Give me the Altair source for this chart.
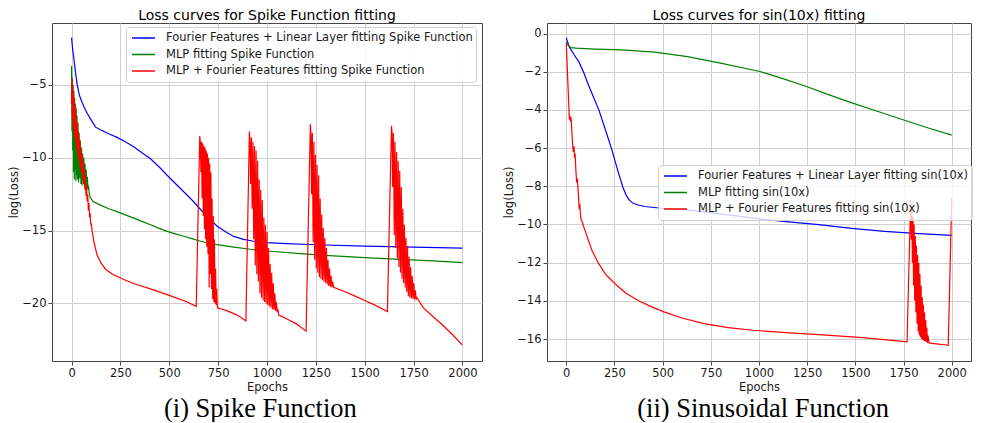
import altair as alt
import pandas as pd

# ---------------- data (epoch, log(loss)) ----------------
EPOCH_TICKS = [0, 250, 500, 750, 1000, 1250, 1500, 1750, 2000]
SPIKE_Y_TICKS = [-5, -10, -15, -20]
SIN_Y_TICKS = [0, -2, -4, -6, -8, -10, -12, -14, -16]

SPIKE_NAMES = [
    "Fourier Features + Linear Layer fitting Spike Function",
    "MLP fitting Spike Function",
    "MLP + Fourier Features fitting Spike Function",
]
SIN_NAMES = [
    "Fourier Features + Linear Layer fitting sin(10x)",
    "MLP fitting sin(10x)",
    "MLP + Fourier Features fitting sin(10x)",
]
COLORS = ["#0000ff", "#008000", "#ff0000"]

spike_ff_linear = [
    (0, -1.75), (6, -2.6), (12, -3.2), (20, -4.1), (29, -5.0), (40, -5.7), (51, -6.1),
    (65, -6.55), (80, -6.95), (100, -7.4), (123, -7.9), (150, -8.1), (190, -8.35),
    (233, -8.6), (275, -8.9), (318, -9.25), (360, -9.65), (404, -10.07), (450, -10.65),
    (489, -11.2), (530, -11.75), (574, -12.33), (620, -12.95), (660, -13.55), (700, -14.1),
    (745, -14.7), (790, -15.1), (830, -15.4), (880, -15.6), (932, -15.73), (1000, -15.83),
    (1100, -15.9), (1250, -15.97), (1500, -16.06), (1750, -16.13), (2000, -16.2),
]

spike_mlp = [
    (0, -3.7), (2, -8.2), (4, -4.5), (6, -9.5), (8, -5.0), (10, -11.0), (12, -5.4), (14, -11.5),
    (16, -5.9), (18, -10.8), (20, -6.3), (22, -11.6), (24, -6.6), (26, -11.2), (28, -7.1),
    (30, -11.5), (33, -7.6), (36, -11.7), (39, -8.3), (42, -11.4), (45, -8.8), (48, -11.8),
    (51, -9.3), (54, -11.9), (57, -9.7), (60, -11.6), (63, -10.0), (66, -12.0), (69, -10.4),
    (72, -11.9), (75, -10.8), (78, -12.1), (81, -11.3), (84, -12.2), (87, -11.9), (90, -12.4),
    (95, -12.7), (110, -13.0), (148, -13.25), (190, -13.5), (233, -13.7), (275, -13.92),
    (318, -14.14), (360, -14.37), (404, -14.6), (445, -14.83), (489, -15.05), (530, -15.22),
    (574, -15.39), (620, -15.57), (660, -15.73), (700, -15.85), (745, -15.96), (830, -16.13),
    (915, -16.28), (1000, -16.4), (1170, -16.58), (1340, -16.74), (1500, -16.86),
    (1682, -16.97), (1850, -17.08), (2000, -17.2),
]

spike_mlp_ff = [
    (0, -6.3), (2, -4.5), (4, -7.2), (6, -5.0), (8, -7.8), (10, -5.6), (12, -8.2), (14, -6.0),
    (16, -8.6), (18, -6.5), (20, -8.9), (23, -7.1), (26, -9.4), (29, -7.6), (32, -9.8),
    (35, -8.2), (38, -10.2), (41, -8.8), (44, -10.6), (47, -9.3), (50, -11.0), (53, -9.8),
    (56, -11.4), (59, -10.3), (62, -11.8), (65, -10.8), (68, -12.2), (71, -11.3), (74, -12.6),
    (77, -11.9), (80, -13.0), (83, -12.5), (86, -13.6), (89, -13.1), (92, -14.1), (95, -13.8),
    (98, -14.6), (101, -14.5), (105, -15.0), (115, -15.8), (131, -16.7), (150, -17.2),
    (174, -17.65), (210, -18.0), (259, -18.3), (320, -18.65), (404, -19.0), (500, -19.45),
    (583, -19.85), (638, -20.2),
    # spike 1
    (656, -8.5), (659, -9.0), (662, -11.0), (665, -8.9), (668, -12.8), (671, -9.0), (674, -14.0),
    (677, -9.2), (680, -14.9), (683, -9.3), (686, -15.6), (689, -9.5), (692, -16.1), (695, -9.7),
    (698, -16.6), (701, -10.0), (704, -18.9), (707, -10.4), (710, -18.0), (713, -11.0),
    (716, -19.0), (719, -12.8), (722, -19.7), (725, -14.0), (728, -19.9), (731, -15.6),
    (734, -20.0), (737, -17.6), (740, -20.1), (743, -19.0), (746, -20.3),
    (760, -20.35), (800, -20.53), (830, -20.7), (860, -20.9), (892, -21.2),
    # spike 2
    (910, -8.2), (913, -9.0), (916, -11.8), (920, -8.6), (924, -13.5), (928, -8.9), (932, -15.6),
    (936, -9.2), (940, -17.4), (944, -9.5), (948, -18.0), (952, -10.2), (956, -18.5),
    (960, -11.5), (964, -19.3), (968, -12.2), (972, -19.6), (976, -12.9), (980, -19.8),
    (984, -14.1), (988, -19.9), (992, -14.6), (996, -20.0), (1000, -15.1), (1004, -20.1),
    (1008, -16.2), (1012, -20.2), (1016, -17.3), (1020, -20.3), (1024, -17.9), (1028, -20.4),
    (1032, -18.6), (1036, -20.45), (1040, -19.3), (1044, -20.5), (1048, -19.9), (1052, -20.6),
    (1056, -20.4), (1060, -20.8), (1100, -21.05), (1150, -21.4), (1200, -21.9),
    # spike 3
    (1222, -7.7), (1225, -8.4), (1228, -12.5), (1232, -8.3), (1236, -15.8), (1240, -8.9),
    (1244, -17.0), (1248, -9.8), (1252, -17.6), (1256, -10.5), (1260, -17.9), (1264, -11.2),
    (1268, -18.2), (1272, -12.8), (1276, -18.3), (1280, -13.9), (1284, -18.4), (1288, -14.8),
    (1292, -18.5), (1296, -15.5), (1300, -18.6), (1304, -16.2), (1308, -18.7), (1312, -17.0),
    (1316, -18.8), (1320, -17.6), (1324, -18.85), (1328, -18.1), (1332, -18.9), (1336, -18.5),
    (1341, -18.9), (1400, -19.2), (1450, -19.5), (1500, -19.8), (1550, -20.1), (1616, -20.55),
    # spike 4
    (1637, -7.8), (1640, -8.4), (1643, -12.0), (1647, -8.3), (1651, -15.3), (1655, -8.9),
    (1659, -16.2), (1663, -9.6), (1667, -16.9), (1671, -10.2), (1675, -17.5), (1679, -10.9),
    (1683, -17.9), (1687, -12.0), (1691, -18.3), (1695, -13.5), (1699, -18.6), (1703, -14.6),
    (1707, -18.9), (1711, -15.5), (1715, -19.2), (1719, -16.1), (1723, -19.5), (1727, -16.8),
    (1731, -19.6), (1735, -17.5), (1739, -19.65), (1743, -18.1), (1747, -19.7), (1751, -18.6),
    (1755, -19.7), (1759, -19.1), (1763, -19.7), (1767, -19.6),
    (1800, -20.3), (1852, -20.93), (1900, -21.5), (1950, -22.15), (2000, -22.86),
]

sin_ff_linear = [
    (0, -0.22), (15, -0.69), (40, -1.1), (66, -1.5), (89, -2.0), (115, -2.7), (140, -3.3),
    (169, -4.0), (200, -4.95), (234, -6.0), (262, -7.0), (292, -8.0), (310, -8.45),
    (325, -8.7), (345, -8.88), (373, -8.98), (407, -9.06), (492, -9.15), (629, -9.24),
    (800, -9.45), (970, -9.67), (1140, -9.85), (1309, -10.01), (1480, -10.2), (1652, -10.36),
    (1830, -10.48), (2000, -10.57),
]

sin_mlp = [
    (0, -0.45), (10, -0.62), (25, -0.74), (50, -0.77), (150, -0.82), (288, -0.86),
    (459, -0.98), (629, -1.21), (800, -1.55), (1005, -1.99), (1120, -2.35), (1243, -2.76),
    (1360, -3.2), (1482, -3.63), (1610, -4.06), (1739, -4.49), (1870, -4.92), (2000, -5.32),
]

sin_mlp_ff = [
    (0, -0.5), (6, -2.0), (12, -3.5), (16, -4.5), (19, -4.3), (22, -4.6), (25, -4.4),
    (28, -5.0), (33, -5.8), (37, -6.2), (40, -5.9), (43, -6.5), (46, -6.3), (50, -7.2),
    (54, -7.8), (57, -7.6), (60, -8.0), (64, -8.6), (67, -9.2), (70, -8.9), (73, -9.4),
    (76, -9.7), (80, -9.8), (90, -10.1), (100, -10.4), (117, -10.9), (135, -11.4),
    (165, -12.0), (203, -12.6), (254, -13.12), (310, -13.6), (373, -13.98), (440, -14.3),
    (510, -14.59), (600, -14.9), (715, -15.19), (840, -15.4), (970, -15.54), (1140, -15.66),
    (1311, -15.77), (1540, -15.93), (1768, -16.15),
    (1787, -8.7), (1790, -10.8), (1793, -9.3), (1796, -12.0), (1799, -9.6), (1802, -13.2),
    (1805, -10.0), (1808, -14.0), (1811, -10.6), (1814, -14.6), (1817, -11.1), (1820, -15.2),
    (1823, -11.6), (1826, -15.6), (1829, -12.0), (1832, -15.8), (1835, -12.6), (1838, -15.9),
    (1841, -13.2), (1844, -16.0), (1847, -13.8), (1850, -16.05), (1853, -14.2), (1856, -16.1),
    (1859, -14.6), (1862, -16.1), (1865, -15.0), (1868, -16.15), (1871, -15.4), (1874, -16.2),
    (1877, -15.8), (1882, -16.2), (1920, -16.25), (1960, -16.3), (1982, -16.33), (2000, -8.6),
]

# ---------------- chart ----------------
FONT = "DejaVu Sans"
TXT = "#1a1a1a"


def panel(series, names, title, ydom, yticks, lx, ly, width, height):
    scale = alt.Scale(domain=names, range=COLORS)
    layers = []
    for pts, name in zip(series, names):
        df = pd.DataFrame(pts, columns=["epoch", "loss"])
        df["series"] = name
        layers.append(
            alt.Chart(df)
            .mark_line(strokeWidth=1.2)
            .encode(
                x=alt.X("epoch:Q", title="Epochs",
                        scale=alt.Scale(domain=[-100, 2100], nice=False, zero=False),
                        axis=alt.Axis(values=EPOCH_TICKS, format="d")),
                y=alt.Y("loss:Q", title="log(Loss)",
                        scale=alt.Scale(domain=ydom, nice=False, zero=False),
                        axis=alt.Axis(values=yticks, format="d")),
                color=alt.Color(
                    "series:N", scale=scale,
                    legend=alt.Legend(
                        title=None, orient="none", legendX=lx, legendY=ly,
                        symbolType="stroke", symbolSize=529, symbolStrokeWidth=1.5,
                        symbolOffset=2,
                        labelFont=FONT, labelFontSize=11.5, labelColor=TXT,
                        labelLimit=500, labelOffset=10,
                        fillColor="rgba(255,255,255,0.8)", strokeColor="#d0d0d0",
                        cornerRadius=3, padding=3, clipHeight=16, rowPadding=0.5,
                    ),
                ),
            )
        )
    return alt.layer(*layers).properties(
        width=width, height=height,
        title=alt.Title(title, font=FONT, fontSize=14, fontWeight="normal",
                        color="black", anchor="middle", offset=0),
    )


left = panel([spike_ff_linear, spike_mlp, spike_mlp_ff], SPIKE_NAMES,
             "Loss curves for Spike Function fitting", [-23.95, -0.75],
             SPIKE_Y_TICKS, 74, 4, 430, 338)
right = panel([sin_ff_linear, sin_mlp, sin_mlp_ff], SIN_NAMES,
              "Loss curves for sin(10x) fitting", [-17.15, 0.55],
              SIN_Y_TICKS, 111, 142, 424, 338)


def captioned(ch, text, dx):
    return alt.vconcat(
        ch,
        title=alt.Title(text, orient="bottom", font="Liberation Serif", fontSize=26.5,
                        fontWeight="normal", color="black", anchor="middle", offset=2,
                        dx=dx),
    ).resolve_scale(color="independent").resolve_legend(color="independent")


chart = (
    alt.hconcat(captioned(left, "(i) Spike Function", 15),
                captioned(right, "(ii) Sinusoidal Function", 25), spacing=20)
    .resolve_scale(color="independent")
    .resolve_legend(color="independent")
    .properties(padding=0, background="white")
    .configure_view(stroke="#444444", strokeWidth=1)
    .configure_axis(
        labelFont=FONT, labelFontSize=11.5, labelColor=TXT,
        titleFont=FONT, titleFontSize=11.5, titleFontWeight="normal", titleColor=TXT,
        gridColor="#d0d0d0", gridWidth=1, domain=False,
        tickColor="#444444", tickSize=4, labelPadding=2,
    )
    .configure_axisX(titlePadding=3)
    .configure_axisY(titlePadding=2)
)

chart.save("out.html", embed_options={"renderer": "svg", "actions": False})
